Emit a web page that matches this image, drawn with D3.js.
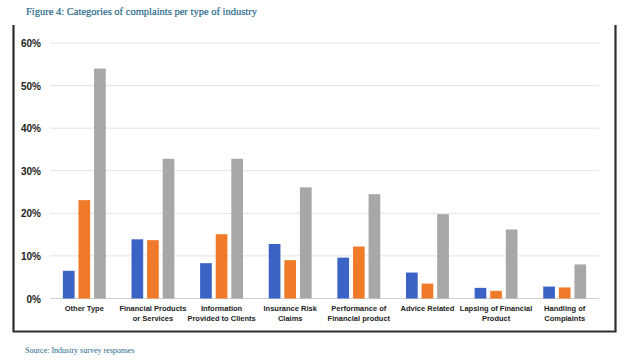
<!DOCTYPE html>
<html>
<head>
<meta charset="utf-8">
<script src="https://cdn.jsdelivr.net/npm/d3@7"></script>
<style>
  body { margin: 0; background: #fff; }
</style>
</head>
<body>
<div id="container"></div>
<script>
const categories = [
  ["Other Type"],
  ["Financial Products", "or Services"],
  ["Information", "Provided to Clients"],
  ["Insurance Risk", "Claims"],
  ["Performance of", "Financial product"],
  ["Advice Related"],
  ["Lapsing of Financial", "Product"],
  ["Handling of", "Complaints"]
];
const seriesNames = ["A", "B", "C"];
const seriesA = [6.5, 13.9, 8.3, 12.8, 9.6, 6.1, 2.5, 2.8];
const seriesB = [23.1, 13.7, 15.1, 9.0, 12.2, 3.5, 1.8, 2.6];
const seriesC = [54.0, 32.8, 32.8, 26.1, 24.5, 19.8, 16.2, 8.0];
const yTicks = [0, 10, 20, 30, 40, 50, 60];
const colors = ["#3b63c6", "#ef7a2a", "#a7a7a7"];

const data = categories.map((c, i) => ({
  key: c.join(" "),
  lines: c,
  values: [seriesA[i], seriesB[i], seriesC[i]]
}));

const W = 630, H = 361;
const svg = d3.select("#container").append("svg")
  .attr("width", W).attr("height", H);

// title
svg.append("text")
  .attr("x", 26).attr("y", 15)
  .attr("font-family", "Liberation Serif, serif")
  .attr("font-size", 10.5)
  .attr("fill", "#25688a")
  .attr("stroke", "#25688a")
  .attr("stroke-width", 0.2)
  .text("Figure 4: Categories of complaints per type of industry");

// frame (top edge cut off)
svg.append("path")
  .attr("d", "M13.5,25 V331.5 H615.5 V25")
  .attr("fill", "none")
  .attr("stroke", "#2e2e2e")
  .attr("stroke-width", 2.2);

const x0 = d3.scaleBand()
  .domain(data.map(d => d.key))
  .range([50, 599])
  .paddingInner(0.375)
  .paddingOuter(0.1875);

const x1 = d3.scaleBand()
  .domain(seriesNames)
  .range([0, x0.bandwidth()])
  .paddingInner(0.25);

const y = d3.scaleLinear()
  .domain([0, 60])
  .range([298.5, 43]);

// gridlines
svg.append("g")
  .selectAll("line")
  .data(yTicks)
  .enter().append("line")
  .attr("x1", 50).attr("x2", 599)
  .attr("y1", d => y(d)).attr("y2", d => y(d))
  .attr("stroke", d => d === 0 ? "#d0d0d0" : "#e2e2e2")
  .attr("stroke-width", 1);

// y axis labels
const yAxis = svg.append("g")
  .attr("transform", "translate(41,0)")
  .call(d3.axisLeft(y).tickValues(yTicks).tickFormat(d => d + "%").tickSize(0));
yAxis.select(".domain").remove();
yAxis.selectAll("text")
  .attr("font-family", "Liberation Sans, Arial, sans-serif")
  .attr("font-weight", "bold")
  .attr("font-size", 10)
  .attr("fill", "#222")
  .attr("x", 0)
  .attr("dy", "0.35em");

// bars
const groups = svg.append("g")
  .selectAll("g")
  .data(data)
  .enter().append("g")
  .attr("transform", d => "translate(" + x0(d.key) + ",0)");

groups.selectAll("rect")
  .data(d => d.values.map((v, i) => ({ s: seriesNames[i], v: v, i: i })))
  .enter().append("rect")
  .attr("x", d => x1(d.s))
  .attr("width", x1.bandwidth())
  .attr("y", d => y(d.v))
  .attr("height", d => y(0) - y(d.v))
  .attr("fill", d => colors[d.i]);

// category labels
const labels = svg.append("g")
  .selectAll("text")
  .data(data)
  .enter().append("text")
  .attr("x", d => x0(d.key) + x0.bandwidth() / 2)
  .attr("y", 311)
  .attr("text-anchor", "middle")
  .attr("font-family", "Liberation Sans, Arial, sans-serif")
  .attr("font-weight", "bold")
  .attr("font-size", 7.5)
  .attr("fill", "#222");

labels.selectAll("tspan")
  .data(d => d.lines)
  .enter().append("tspan")
  .attr("x", function() { return d3.select(this.parentNode).attr("x"); })
  .attr("dy", (d, i) => i === 0 ? 0 : 9.5)
  .text(d => d);

// source
svg.append("text")
  .attr("x", 25).attr("y", 353)
  .attr("font-family", "Liberation Serif, serif")
  .attr("font-size", 8)
  .attr("fill", "#25688a")
  .text("Source: Industry survey responses");
</script>
</body>
</html>
